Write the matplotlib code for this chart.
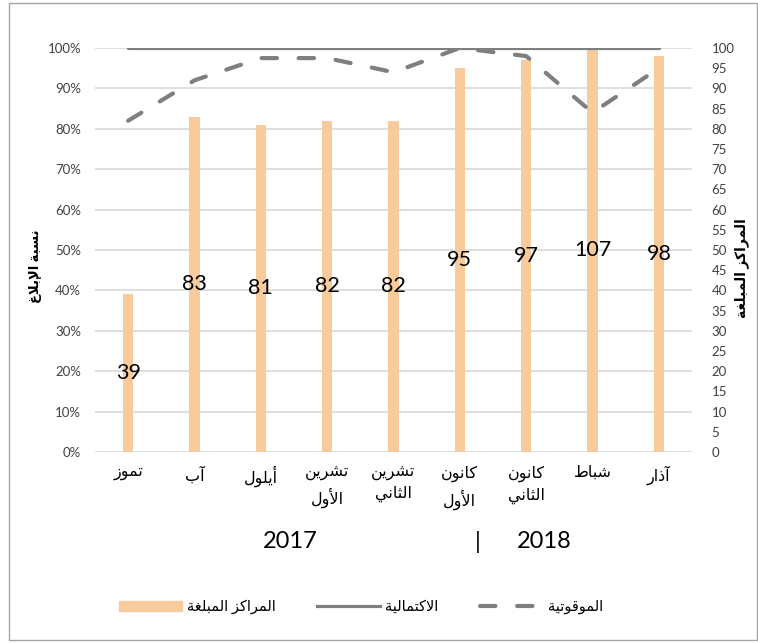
import numpy as np
import matplotlib
matplotlib.use('Agg')
import matplotlib.pyplot as plt
from matplotlib.ticker import MultipleLocator, PercentFormatter, FormatStrFormatter
from matplotlib.patches import Rectangle
from matplotlib.lines import Line2D

plt.rcParams['font.family'] = ['Lato', 'DejaVu Sans']

# data
months = ['تموز', 'آب', 'أيلول', 'تشرين\nالأول', 'تشرين\nالثاني',
          'كانون\nالأول', 'كانون\nالثاني', 'شباط', 'آذار']
centres = [39, 83, 81, 82, 82, 95, 97, 107, 98]
completeness = [1.00, 1.00, 1.00, 1.00, 1.00, 1.00, 1.00, 1.00, 1.00]
timeliness = [0.82, 0.92, 0.975, 0.975, 0.94, 1.00, 0.98, 0.84, 0.95]

lbl_left = 'نسبة الإبلاغ'
lbl_right = 'المراكز المبلغة'
lbl_centres = 'المراكز المبلغة'
lbl_complete = 'الاكتمالية'
lbl_timely = 'الموقوتية'

# matplotlib 3.10 does no arabic shaping, so pick presentation forms by hand
# (isolated, final, initial, medial)
FORMS = {
    'ا': ('\uFE8D', '\uFE8E', None, None),
    'آ': ('\uFE81', '\uFE82', None, None),
    'أ': ('\uFE83', '\uFE84', None, None),
    'إ': ('\uFE87', '\uFE88', None, None),
    'ب': ('\uFE8F', '\uFE90', '\uFE91', '\uFE92'),
    'ة': ('\uFE93', '\uFE94', None, None),
    'ت': ('\uFE95', '\uFE96', '\uFE97', '\uFE98'),
    'ث': ('\uFE99', '\uFE9A', '\uFE9B', '\uFE9C'),
    'ذ': ('\uFEAB', '\uFEAC', None, None),
    'ر': ('\uFEAD', '\uFEAE', None, None),
    'ز': ('\uFEAF', '\uFEB0', None, None),
    'س': ('\uFEB1', '\uFEB2', '\uFEB3', '\uFEB4'),
    'ش': ('\uFEB5', '\uFEB6', '\uFEB7', '\uFEB8'),
    'ط': ('\uFEC1', '\uFEC2', '\uFEC3', '\uFEC4'),
    'غ': ('\uFECD', '\uFECE', '\uFECF', '\uFED0'),
    'ق': ('\uFED5', '\uFED6', '\uFED7', '\uFED8'),
    'ك': ('\uFED9', '\uFEDA', '\uFEDB', '\uFEDC'),
    'ل': ('\uFEDD', '\uFEDE', '\uFEDF', '\uFEE0'),
    'م': ('\uFEE1', '\uFEE2', '\uFEE3', '\uFEE4'),
    'ن': ('\uFEE5', '\uFEE6', '\uFEE7', '\uFEE8'),
    'و': ('\uFEED', '\uFEEE', None, None),
    'ي': ('\uFEF1', '\uFEF2', '\uFEF3', '\uFEF4'),
}
LAM_ALEF = {'آ': ('\uFEF5', '\uFEF6', None, None),
            'أ': ('\uFEF7', '\uFEF8', None, None),
            'إ': ('\uFEF9', '\uFEFA', None, None),
            'ا': ('\uFEFB', '\uFEFC', None, None)}


def shape_word(word):
    toks = []
    i = 0
    while i < len(word):
        c = word[i]
        if c == 'ل' and i + 1 < len(word) and word[i + 1] in LAM_ALEF:
            toks.append(LAM_ALEF[word[i + 1]])
            i += 2
        else:
            toks.append(FORMS.get(c, (c, c, None, None)))
            i += 1
    out = []
    for k, f in enumerate(toks):
        prev_j = k > 0 and toks[k - 1][2] is not None
        next_j = f[2] is not None and k + 1 < len(toks)
        if prev_j and next_j:
            out.append(f[3])
        elif prev_j:
            out.append(f[1])
        elif next_j:
            out.append(f[2])
        else:
            out.append(f[0])
    return ''.join(reversed(out))


def ar(text):
    lines = []
    for line in text.split('\n'):
        lines.append(' '.join(reversed([shape_word(w) for w in line.split(' ')])))
    return '\n'.join(lines)


W, H = 758, 643
fig = plt.figure(figsize=(W / 100, H / 100), dpi=100)

# outer chart border
fig.patches.append(Rectangle((9 / W, 1 - 640 / H), 748 / W, 637 / H, transform=fig.transFigure,
                             fill=False, edgecolor='#a6a6a6', linewidth=1))

ax = fig.add_axes([95 / W, 1 - 452 / H, 597 / W, 404 / H])
ax2 = ax.twinx()
x = np.arange(len(months))

# bars on the right-hand scale
bars = ax.bar(x, centres, width=0.16, color='#F8CB9C', zorder=2)
ax.bar_label(bars, label_type='center', fontsize=15.5, color='black')
ax.set_ylim(0, 100)
ax.set_xlim(-0.5, len(months) - 0.5)
ax.yaxis.tick_right()
ax.yaxis.set_major_locator(MultipleLocator(10))
ax.yaxis.set_minor_locator(MultipleLocator(5))
ax.yaxis.set_major_formatter(FormatStrFormatter('%d'))
ax.yaxis.set_minor_formatter(FormatStrFormatter('%d'))
ax.tick_params(axis='y', which='both', length=0, pad=14, labelsize=9.5, labelcolor='#404040')
ax.grid(axis='y', which='major', color='#d9d9d9', linewidth=1.2, zorder=0)
ax.set_axisbelow(True)
ax.set_xticks(x)
ax.set_xticklabels([ar(m) for m in months], fontsize=11.5, linespacing=1.45)
ax.tick_params(axis='x', length=0, pad=10)
for s in ax.spines.values():
    s.set_visible(False)

# percentage lines on the left-hand scale
ax2.plot(x, completeness, color='#7f7f7f', linewidth=2.3, solid_capstyle='round', zorder=3)
ax2.plot(x, timeliness, color='#7f7f7f', linewidth=3, linestyle=(0, (3.7, 5.2)),
         dash_capstyle='round', zorder=3)
ax2.set_ylim(0, 1)
ax2.yaxis.tick_left()
ax2.yaxis.set_major_locator(MultipleLocator(0.1))
ax2.yaxis.set_major_formatter(PercentFormatter(1.0, decimals=0))
ax2.tick_params(axis='y', length=0, pad=10, labelsize=9.5, labelcolor='#404040')
for s in ax2.spines.values():
    s.set_visible(False)

# axis titles
fig.text(36 / W, 1 - 266 / H, ar(lbl_left), rotation=90, ha='center', va='center',
         fontsize=9.5, fontweight='bold')
fig.text(742 / W, 1 - 268 / H, ar(lbl_right), rotation=90, ha='center', va='center',
         fontsize=10, fontweight='bold')

# years under the months
fig.text(290 / W, 1 - 542 / H, '2017', ha='center', va='center', fontsize=17)
fig.text(478 / W, 1 - 542 / H, '|', ha='center', va='center', fontsize=17)
fig.text(544 / W, 1 - 542 / H, '2018', ha='center', va='center', fontsize=17)

handles = [Rectangle((0, 0), 1, 1, color='#F8CB9C'),
           Line2D([], [], color='#7f7f7f', linewidth=2.3),
           Line2D([], [], color='#7f7f7f', linewidth=3, linestyle=(0, (3.7, 5.2)),
                  dash_capstyle='round')]
fig.legend(handles, [ar(lbl_centres), ar(lbl_complete), ar(lbl_timely)],
           loc='center', bbox_to_anchor=(361 / W, 1 - 607 / H), ncol=3, frameon=False,
           fontsize=10.5, handlelength=4.3, handleheight=0.7, handletextpad=0.4,
           columnspacing=2.8)

fig.savefig('out.png', dpi=100)
